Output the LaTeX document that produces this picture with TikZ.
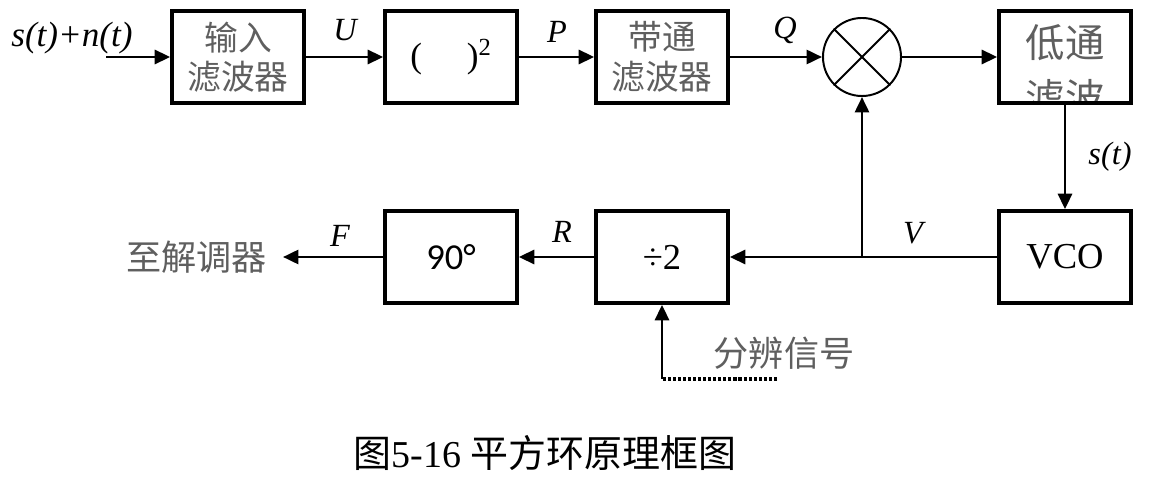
\documentclass[tikz,border=0pt]{standalone}
\usepackage{fontspec}
\setmainfont{Liberation Serif}
\newfontfamily\cjk{Noto Sans CJK SC}
\newfontfamily\calib{Carlito}
\usetikzlibrary{arrows.meta}
\definecolor{inkgrey}{RGB}{95,95,95}

\begin{document}
\begin{tikzpicture}[x=0.025cm,y=-0.025cm,
    blk/.style={draw,line width=2.6pt,minimum width=3.3cm,minimum height=2.3cm,inner sep=0pt,align=center},
    arr/.style={line width=2pt,-{Triangle[length=11pt,width=10pt]}},
    lbl/.style={font=\fontsize{23}{23}\selectfont\itshape},
    cn/.style={text=inkgrey,align=center,font=\fontsize{24}{28}\selectfont\cjk}]
  \useasboundingbox (0,0) rectangle (1152,478);
  % upper row
  \node[blk,cn] (inf) at (238,57) {输入\\滤波器};
  \node[blk,font=\fontsize{25}{25}\selectfont] (sq) at (451,57) {(\quad\;)\textsuperscript{2}};
  \node[blk,cn] (bpf) at (662,57) {带通\\滤波器};
  \node[draw,circle,line width=1.4pt,minimum size=1.95cm,inner sep=0pt] (mix) at (862,57) {};
  \draw[line width=1.4pt] (mix.north west) -- (mix.south east);
  \draw[line width=1.4pt] (mix.north east) -- (mix.south west);
  \begin{scope}
    \clip (1000,10) rectangle (1130,101);
    \node[cn,font=\fontsize{28}{39}\selectfont\cjk] (lptxt) at (1065,70) {低通\\滤波};
  \end{scope}
  \node[blk] (lpf) at (1065,57) {};
  % lower row
  \node[blk,font=\fontsize{26}{26}\selectfont] (vco) at (1065,257) {VCO};
  \node[blk,font=\fontsize{26}{26}\selectfont] (div) at (662,257) {÷2};
  \node[blk,font=\fontsize{26}{26}\selectfont\calib] (ph) at (451,257) {90°};
  % connectors
  \coordinate (src) at (106,57);
  \node[font=\fontsize{25}{25}\selectfont\itshape] (sn) at (72,38) {s(t)+n(t)};
  \draw[arr] (src) -- (inf);
  \draw[arr] (inf) -- (sq);
  \node[lbl] (lu) at (345,30) {U};
  \draw[arr] (sq) -- (bpf);
  \node[lbl] (lp) at (557,32) {P};
  \draw[arr] (bpf) -- (mix);
  \node[lbl] (lq) at (785,30) {Q};
  \draw[arr] (mix) -- (lpf);
  \draw[arr] (lpf) -- (vco);
  \node[lbl] (ls) at (1110,157) {s(t)};
  \draw[arr] (vco) -- (div);
  \node[lbl] (lv) at (913,233) {V};
  \coordinate (jn) at (mix |- vco);
  \draw[arr] (jn) -- (mix.south);
  \draw[arr] (div) -- (ph);
  \node[lbl] (lr) at (562,232) {R};
  \coordinate (out) at (283,257);
  \draw[arr] (ph) -- (out);
  \node[lbl] (lf) at (340,236) {F};
  \node[cn,anchor=east,font=\fontsize{25}{25}\selectfont\cjk] (dem) at ([xshift=-8]out) {至解调器};
  % select signal
  \node[cn,font=\fontsize{25}{25}\selectfont\cjk] (sel) at (784,353) {分辨信号};
  \coordinate (dl) at (777,379);
  \coordinate (cr) at (div.south |- dl);
  \draw[line width=3pt,dash pattern=on 2.2pt off 1.4pt] (dl) -- (cr);
  \draw[arr] (cr) -- (div.south);
  % caption
  \node[font=\fontsize{27}{27}\selectfont] (cap) at (545,453) {{\cjk 图}5-16 {\cjk 平方环原理框图}};
\end{tikzpicture}
\end{document}
